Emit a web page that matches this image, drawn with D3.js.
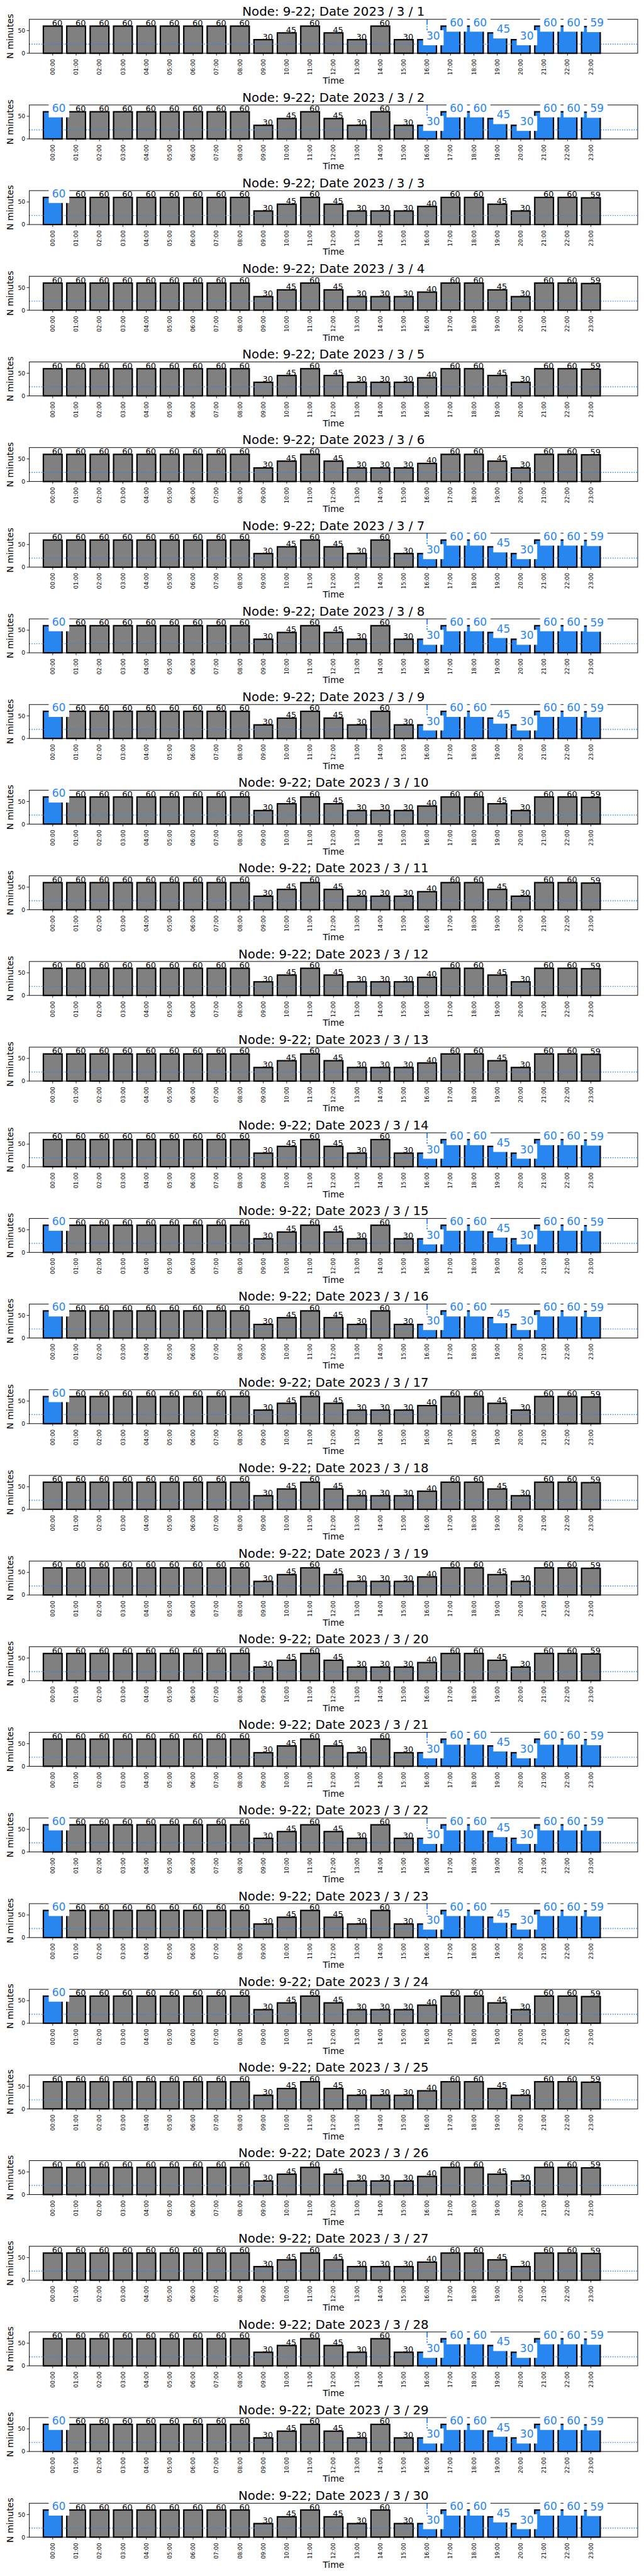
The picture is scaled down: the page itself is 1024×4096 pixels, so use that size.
<!DOCTYPE html>
<html><head><meta charset="utf-8">
<script src="https://cdn.jsdelivr.net/npm/d3@7/dist/d3.min.js"></script>
<style>body{margin:0;background:#fff}svg{display:block}text{font-family:"DejaVu Sans",sans-serif}</style>
</head><body>
<script>
// ---------------- data ----------------
const hourLabels = ["00:00","01:00","02:00","03:00","04:00","05:00","06:00","07:00","08:00","09:00","10:00","11:00",
                    "12:00","13:00","14:00","15:00","16:00","17:00","18:00","19:00","20:00","21:00","22:00","23:00"];
const days = [1,2,3,4,5,6,7,8,9,10,11,12,13,14,15,16,17,18,19,20,21,22,23,24,25,26,27,28,29,30];
// minutes per hour on days with highlighted evening
const minutesEveningDays = [60,60,60,60,60,60,60,60,60,30,45,60,45,30,60,30,30,60,60,45,30,60,60,59];
// minutes per hour on the other days
const minutesOtherDays   = [60,60,60,60,60,60,60,60,60,30,45,60,45,30,30,30,40,60,60,45,30,60,60,59];
const eveningHighlightDays  = [1,2,7,8,9,14,15,16,21,22,23,28,29,30];
const midnightHighlightDays = [2,3,8,9,10,15,16,17,22,23,24,29,30];
const eveningStartHour = 16;
const thresholdMinutes = 20;
const yTicks = [0, 50];
const yMax = 75;
const nodeName = "9-22";
const year = 2023, month = 3;

// ---------------- layout (reference px) ----------------
const S = 1024/1500;
const W = 1500, H = 6000;
const panelStep = 199.5;
const axL = 68.3, axR = 1485.3, axT = 45, axB = 124;
const blue = "#2886f0", grey = "#808080";

const svg = d3.select("body").append("svg").attr("width", 1024).attr("height", 4096);
const root = svg.append("g").attr("transform", `scale(${S})`);
root.append("rect").attr("width", W).attr("height", H).attr("fill", "#fff");

const x = d3.scaleLinear().domain([-1, 25]).range([axL, axR]);
const y = d3.scaleLinear().domain([0, yMax]).range([axB, axT]);
const barHalf = 0.4;

days.forEach((day, k) => {
  const g = root.append("g").attr("transform", `translate(0,${k*panelStep})`);
  const evening = eveningHighlightDays.includes(day);
  const midnight = midnightHighlightDays.includes(day);
  const vals = evening ? minutesEveningDays : minutesOtherDays;
  const data = vals.map((v, i) => ({i, v, hl: (evening && i >= eveningStartHour) || (midnight && i === 0)}));

  // title
  g.append("text").attr("x", (axL+axR)/2).attr("y", 37.3).attr("text-anchor", "middle")
    .attr("font-size", 29).attr("fill", "#000")
    .text(`Node: ${nodeName}; Date ${year} / ${month} / ${day}`);

  // bars
  g.selectAll("rect.bar").data(data).enter().append("rect").attr("class", "bar")
    .attr("x", d => x(d.i - barHalf)).attr("width", x(barHalf) - x(-barHalf))
    .attr("y", d => y(d.v)).attr("height", d => y(0) - y(d.v))
    .attr("fill", d => d.hl ? blue : grey).attr("stroke", "#000").attr("stroke-width", 3.2);

  // threshold line (dotted)
  g.append("line").attr("x1", axL).attr("x2", axR).attr("y1", y(thresholdMinutes)).attr("y2", y(thresholdMinutes))
    .attr("stroke", blue).attr("stroke-width", 2.1).attr("stroke-dasharray", "2.1 3.4");
  // evening start line (dash-dot), drawn from bottom
  if (evening) {
    g.append("line").attr("x1", x(eveningStartHour)).attr("x2", x(eveningStartHour)).attr("y1", y(0)).attr("y2", y(yMax))
      .attr("stroke", blue).attr("stroke-width", 2.6).attr("stroke-dasharray", "13.3 3.3 2.1 3.3");
  }

  // spines
  g.append("rect").attr("x", axL).attr("y", axT).attr("width", axR-axL).attr("height", axB-axT)
    .attr("fill", "none").attr("stroke", "#000").attr("stroke-width", 1.4);

  // x ticks
  hourLabels.forEach((lab, i) => {
    g.append("line").attr("x1", x(i)).attr("x2", x(i)).attr("y1", axB).attr("y2", axB + 5.5)
      .attr("stroke", "#000").attr("stroke-width", 1.3);
    g.append("text").attr("transform", `translate(${x(i)+4.6},${axB+13.3}) rotate(-90)`)
      .attr("text-anchor", "end").attr("font-size", 13).attr("fill", "#000").text(lab);
  });
  // y ticks
  yTicks.forEach(t => {
    g.append("line").attr("x1", axL - 6).attr("x2", axL).attr("y1", y(t)).attr("y2", y(t))
      .attr("stroke", "#000").attr("stroke-width", 1.3);
    g.append("text").attr("x", axL - 9.5).attr("y", y(t)).attr("dy", "0.36em").attr("text-anchor", "end")
      .attr("font-size", 13.5).attr("fill", "#000").text(t);
  });
  // axis labels
  g.append("text").attr("transform", `translate(30.7,${(axT+axB)/2}) rotate(-90)`).attr("text-anchor", "middle")
    .attr("font-size", 20.5).attr("fill", "#000").text("N minutes");
  g.append("text").attr("x", (axL+axR)/2).attr("y", 195).attr("text-anchor", "middle")
    .attr("font-size", 20.5).attr("fill", "#000").text("Time");

  // value labels
  data.forEach(d => {
    const cx = x(d.i), top = y(d.v);
    if (d.hl) {
      g.append("rect").attr("x", cx - 9.3).attr("y", top - 22).attr("width", 47.8).attr("height", 35)
        .attr("fill", "#fff");
      g.append("text").attr("x", cx + 14.3).attr("y", top).attr("text-anchor", "middle")
        .attr("font-size", 25).attr("fill", blue).text(d.v);
    } else {
      g.append("text").attr("x", x(d.i + barHalf) + 0.8).attr("y", top - 0.8).attr("text-anchor", "end")
        .attr("font-size", 19).attr("fill", "#000").text(d.v);
    }
  });
});
</script>
</body></html>
